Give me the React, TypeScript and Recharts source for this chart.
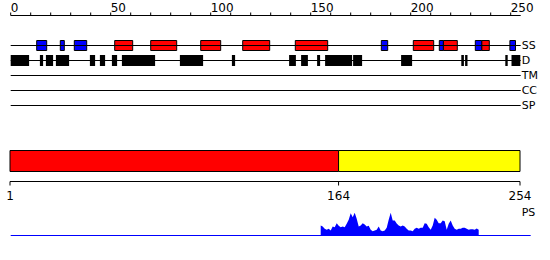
import React from "react";
import {
  ComposedChart,
  Area,
  XAxis,
  YAxis,
  ReferenceArea,
  ReferenceLine,
} from "recharts";

// feature tracks, top to bottom
const tracks = ["SS", "D", "TM", "CC", "SP"];

// residue ranges [from, to] per feature type
const helices: [number, number][] = [
  [52, 61], [70, 83], [95, 105], [116, 129.5], [142.3, 158.5],
  [201.3, 211.5], [216.3, 223.3], [235.5, 239.3],
];
const strands: [number, number][] = [
  [13, 18], [24.8, 26.8], [31.8, 38], [185.3, 188.5],
  [214.3, 216.3], [232.3, 235.5], [249.6, 252.4],
];
const disorder: [number, number][] = [
  [0, 9.2], [14.6, 16.2], [17.6, 21.2], [22.6, 29.2], [39.6, 42.2],
  [44.6, 47.2], [50.6, 53.2], [55.6, 72.2], [84.6, 96.2], [110.6, 112.2],
  [139.2, 142.6], [145.2, 148.6], [153.2, 154.7], [157.2, 170.7], [171.2, 175.7],
  [195.2, 200.7], [225.3, 226.6], [227.2, 228.4], [247.3, 248.5], [250.4, 254.8],
];

const topTicks = [
  0, 10, 20, 30, 40, 50, 60, 70, 80, 90, 100, 110, 120,
  130, 140, 150, 160, 170, 180, 190, 200, 210, 220, 230, 240, 250,
];

// domain boundaries (also the bottom axis ticks)
const domainEdges = [1, 164, 254];
const domainColors = ["#ff0000", "#ffff00"];

// PS profile, one value per residue starting at psStart
const psStart = 155;
const psValues = [
  10, 9, 6.7, 5.7, 6.7, 5, 9, 8.3, 12.3, 9.7,
  8.3, 9, 8.3, 11.7, 15.7, 22.3, 18.3, 22.7, 16.7, 9,
  10, 12.3, 11, 9, 9.7, 5.7, 4.3, 5, 5.7, 9,
  5, 4.3, 5, 7.7, 15.7, 22.7, 15, 15, 12, 10,
  9, 10, 9, 6.7, 5, 5, 4.3, 6.7, 7.7, 6.7,
  7.7, 7.7, 12.3, 11.7, 8.3, 5.7, 10, 17.7, 15.7, 12.3,
  12.3, 15, 14.3, 5.7, 11.7, 15, 10, 6.7, 5.7, 6.7,
  6.7, 7.7, 7.7, 6.7, 5.7, 6.3, 6.3, 5.7, 7, 5.7,
];
const psData = psValues.map((v, i) => ({ pos: psStart + i, v }));

const trackRows = tracks.map((t, i) => ({ pos: 0, track: i }));
const edgeRows = domainEdges.map((e) => ({ pos: e, lvl: 0 }));

const SS_HALF = 1 / 3;
const D_HALF = 5.5 / 15;

const TopTick = (props: any) => {
  const { x, y, payload } = props;
  if (payload.value % 50 !== 0) return null;
  return (
    <text x={x} y={y + 1} textAnchor="start" fill="#000" fontSize={12}>
      {payload.value}
    </text>
  );
};

const PsLabel = (props: any) => {
  const vb = props.viewBox;
  return (
    <text x={vb.x + vb.width - 9} y={vb.y - 20} fill="#000" fontSize={11}>
      PS
    </text>
  );
};

export default function App() {
  return (
    <div
      style={{
        position: "absolute",
        left: 0,
        top: 0,
        width: 550,
        height: 260,
        background: "#fff",
        fontFamily: "DejaVu Sans",
      }}
    >
      {/* feature tracks */}
      <div style={{ position: "absolute", left: 0, top: 0 }}>
        <ComposedChart
          width={550}
          height={121}
          data={trackRows}
          margin={{ top: 0.5, right: 29.3, bottom: 0.5, left: 10.7 }}
        >
          <XAxis
            type="number"
            dataKey="pos"
            orientation="top"
            domain={[0, 255]}
            ticks={topTicks}
            interval={0}
            tickSize={3}
            height={15}
            stroke="#000"
            tick={TopTick}
          />
          <YAxis type="number" dataKey="track" domain={[-2, 5]} reversed hide />
          {tracks.map((t, i) => (
            <ReferenceLine
              key={t}
              y={i}
              stroke="#000"
              label={{ value: t, position: "right", offset: 1, fill: "#000", fontSize: 11 }}
            />
          ))}
          {disorder.map(([a, b], i) => (
            <ReferenceArea
              key={"d" + i}
              x1={a}
              x2={b}
              y1={1 - D_HALF}
              y2={1 + D_HALF}
              fill="#000"
              fillOpacity={1}
            />
          ))}
          {helices.map(([a, b], i) => (
            <ReferenceArea
              key={"h" + i}
              x1={a}
              x2={b}
              y1={-SS_HALF}
              y2={SS_HALF}
              fill="#ff0000"
              fillOpacity={1}
              stroke="#000"
              strokeWidth={1}
            />
          ))}
          {strands.map(([a, b], i) => (
            <ReferenceArea
              key={"s" + i}
              x1={a}
              x2={b}
              y1={-SS_HALF}
              y2={SS_HALF}
              fill="#0000ff"
              fillOpacity={1}
              stroke="#000"
              strokeWidth={1}
            />
          ))}
        </ComposedChart>
      </div>

      {/* domain bar */}
      <div style={{ position: "absolute", left: 0, top: 150 }}>
        <ComposedChart
          width={550}
          height={60}
          data={edgeRows}
          margin={{ top: 0.5, right: 30, bottom: 3.5, left: 10 }}
        >
          <XAxis
            type="number"
            dataKey="pos"
            domain={[domainEdges[0], domainEdges[domainEdges.length - 1]]}
            ticks={domainEdges}
            interval={0}
            tickSize={4}
            tickMargin={6}
            height={25}
            stroke="#000"
            tick={{ fill: "#000", fontSize: 12 }}
          />
          <YAxis type="number" dataKey="lvl" domain={[0, 31]} hide />
          {domainEdges.slice(0, -1).map((e, i) => (
            <ReferenceArea
              key={"dom" + i}
              x1={e}
              x2={domainEdges[i + 1]}
              y1={10}
              y2={31}
              fill={domainColors[i]}
              fillOpacity={1}
              stroke="#000"
              strokeWidth={1}
            />
          ))}
        </ComposedChart>
      </div>

      {/* PS profile */}
      <div style={{ position: "absolute", left: 0, top: 200 }}>
        <ComposedChart
          width={550}
          height={36}
          data={psData}
          margin={{ top: 0.5, right: 19.3, bottom: 0.5, left: 10.7 }}
        >
          <XAxis type="number" dataKey="pos" domain={[0, 260]} hide />
          <YAxis type="number" domain={[0, 35]} hide />
          <Area
            type="linear"
            dataKey="v"
            fill="#0000ff"
            fillOpacity={1}
            stroke="none"
            dot={false}
            activeDot={false}
            isAnimationActive={false}
          />
          <ReferenceLine y={0} stroke="#0000ff" label={PsLabel} />
        </ComposedChart>
      </div>
    </div>
  );
}
